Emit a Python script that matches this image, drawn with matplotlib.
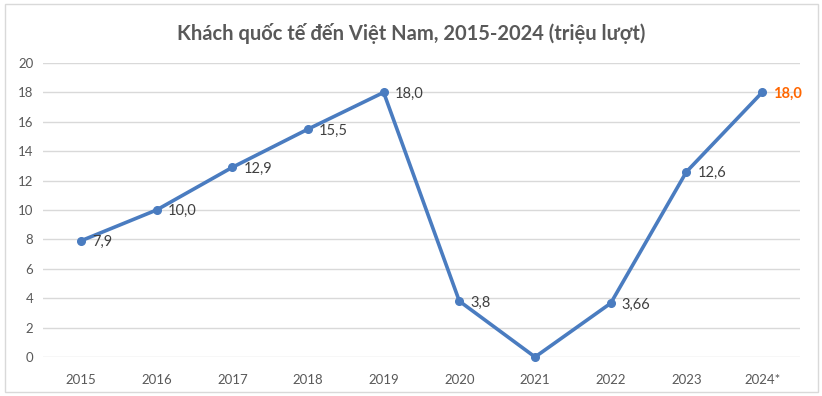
import matplotlib

matplotlib.use("Agg")
import matplotlib.pyplot as plt
from matplotlib.patches import Rectangle

YEARS = ["2015", "2016", "2017", "2018", "2019", "2020", "2021", "2022", "2023", "2024*"]
VISITORS = [7.9, 10.0, 12.9, 15.5, 18.0, 3.8, 0.0, 3.66, 12.6, 18.0]
LABELS = ["7,9", "10,0", "12,9", "15,5", "18,0", "3,8", "", "3,66", "12,6", "18,0"]
TITLE = "Khách quốc tế đến Việt Nam, 2015-2024 (triệu lượt)"

plt.rcParams["font.family"] = ["Lato", "DejaVu Sans"]

fig = plt.figure(figsize=(8.22, 3.96), dpi=100)
fig.patches.append(Rectangle((5 / 822, 4 / 396), 813 / 822, 388 / 396,
                             transform=fig.transFigure, fill=False,
                             edgecolor="#d9d9d9", linewidth=1.0))
ax = fig.add_axes([43 / 822, 39 / 396, 757 / 822, 294 / 396])

x = list(range(len(YEARS)))
ax.plot(x, VISITORS, color="#4a7cc0", linewidth=2.6, marker="o",
        markersize=5.5, zorder=3, clip_on=False)

for i, (v, lab) in enumerate(zip(VISITORS, LABELS)):
    if not lab:
        continue
    last = i == len(YEARS) - 1
    ax.annotate(lab, (i, v), xytext=(8, -1), textcoords="offset points",
                ha="left", va="center", fontsize=10.5,
                color="#ff6600" if last else "#404040",
                fontweight="bold" if last else "normal")

ax.set_xlim(-0.5, len(YEARS) - 0.5)
ax.set_ylim(0, 20)
ax.set_yticks(range(0, 21, 2))
ax.set_xticks(x)
ax.set_xticklabels(YEARS)
ax.tick_params(length=0, labelsize=9.5, colors="#595959", pad=12)
ax.tick_params(axis="y", pad=7)
ax.grid(axis="y", color="#d9d9d9", linewidth=1.0)
ax.set_axisbelow(True)
for s in ax.spines.values():
    s.set_visible(False)

fig.text(0.5, 1 - 33 / 396, TITLE, ha="center", va="center",
         fontsize=14.5, fontweight="bold", color="#595959")

fig.savefig("out.png", dpi=100)
